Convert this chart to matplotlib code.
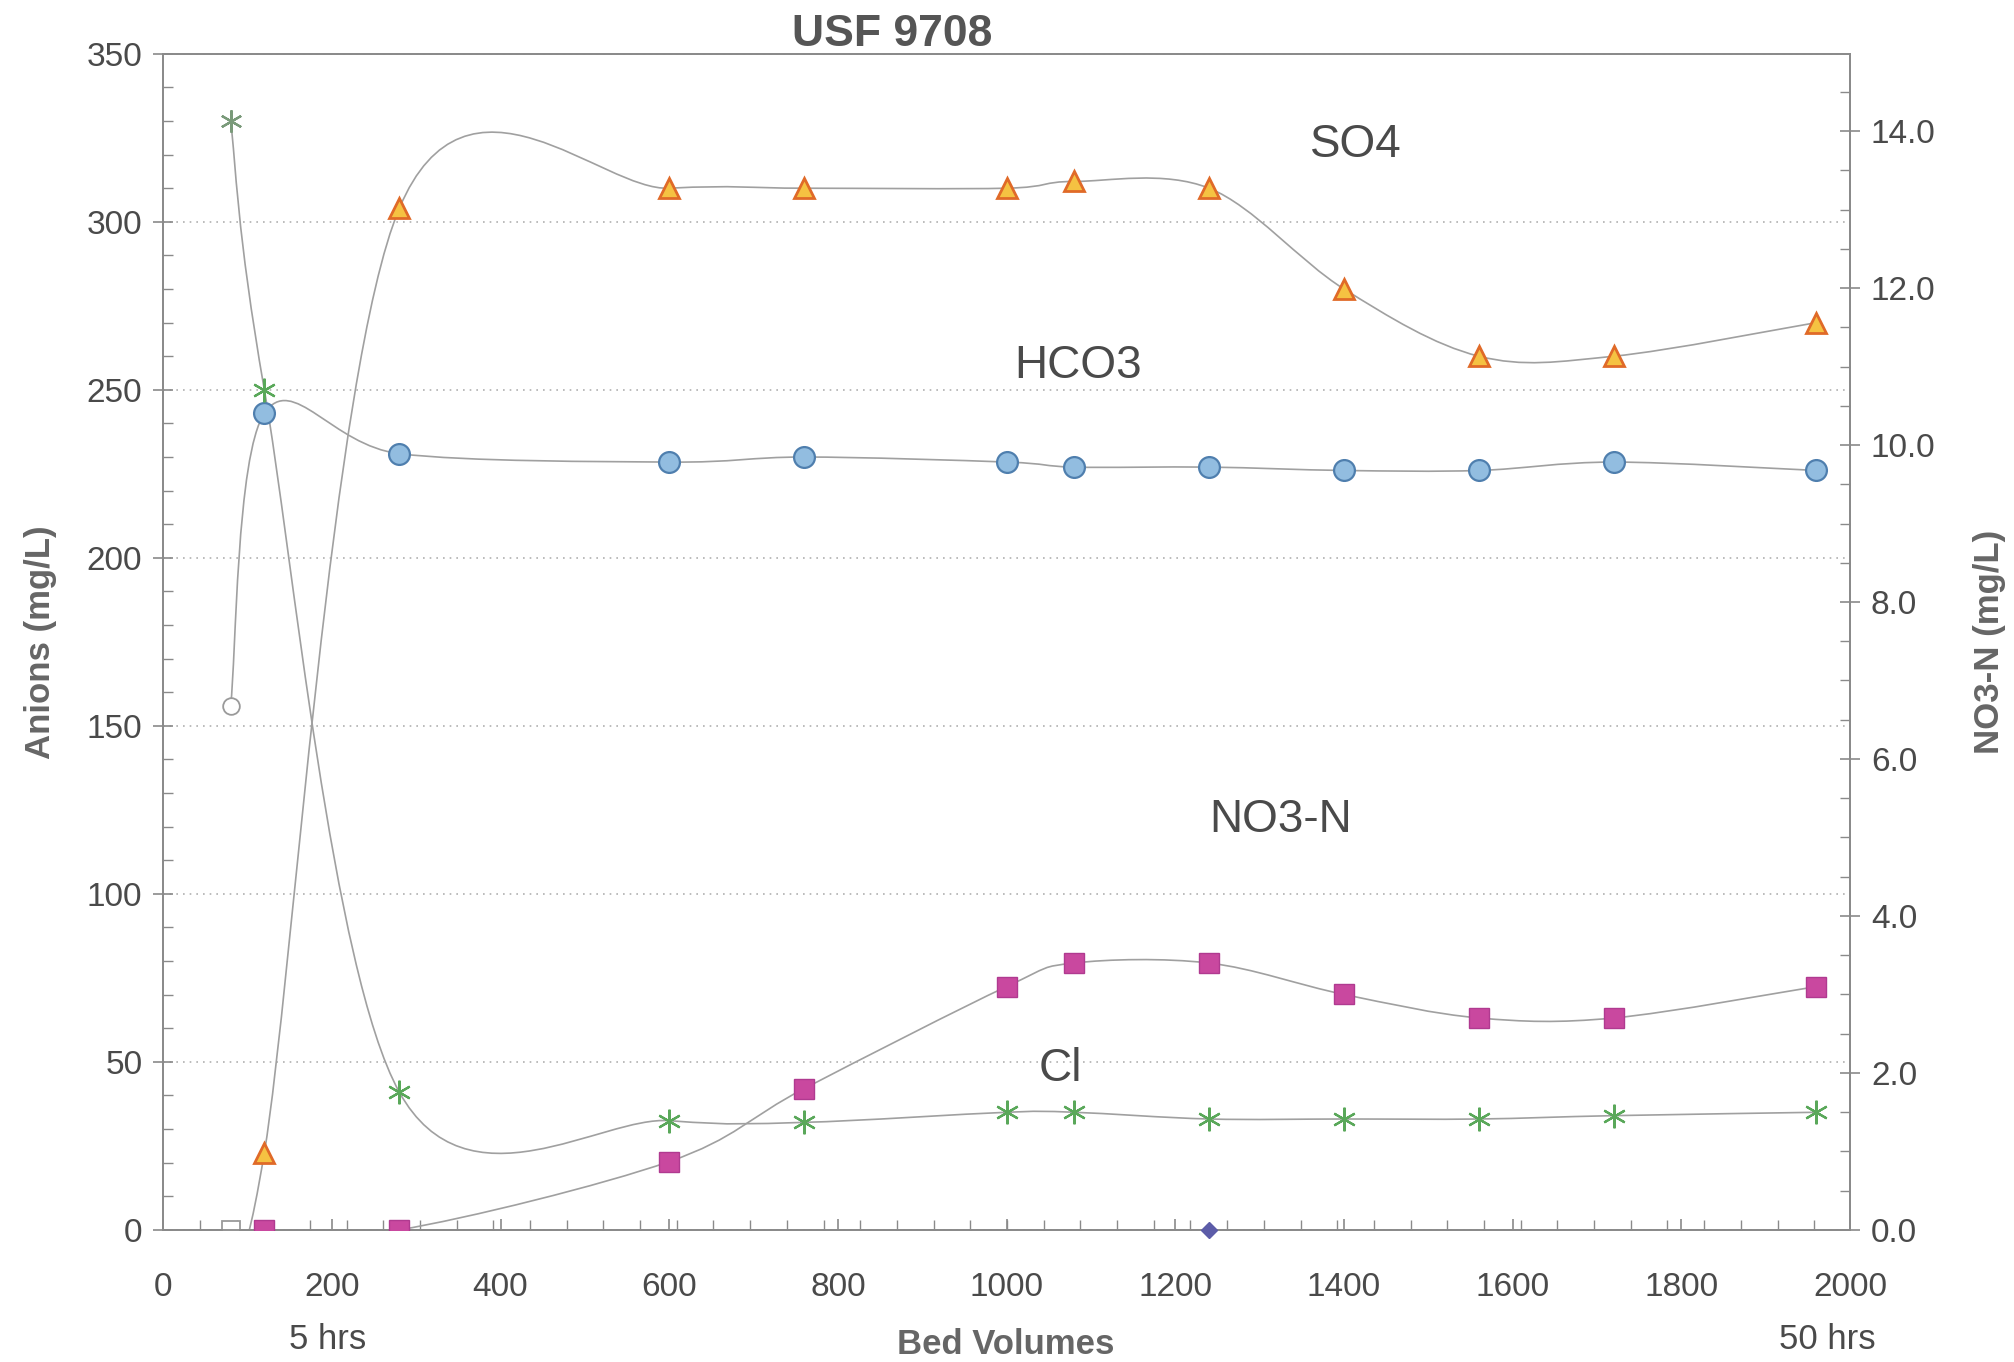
import numpy as np
import matplotlib
matplotlib.use('Agg')
import matplotlib.pyplot as plt
from matplotlib.path import Path
from matplotlib.patches import PathPatch
from matplotlib.ticker import MultipleLocator, FormatStrFormatter

# bed volumes sampled (first point = influent, drawn hollow)
bed_volumes = [80, 120, 280, 600, 760, 1000, 1080, 1240, 1400, 1560, 1720, 1960]
so4 = [0, 23, 304, 310, 310, 310, 312, 310, 280, 260, 260, 270]
hco3 = [156, 243, 231, 228.5, 230, 228.5, 227, 227, 226, 226, 228.5, 226]
cl = [330, 250, 41, 32.5, 32, 35, 35, 33, 33, 33, 34, 35]
no3_bv = [120, 280, 600, 760, 1000, 1080, 1240, 1400, 1560, 1720, 1960]
no3_n = [0, 0, 0.87, 1.8, 3.1, 3.4, 3.4, 3.0, 2.7, 2.7, 3.1]
nitrite_bv = [1240]
nitrite = [0]

plt.rcParams['font.family'] = ['Liberation Sans', 'DejaVu Sans']
txt = '#4a4a4a'
gray = '#8a8a8a'


def smooth_path(xs, ys):
    # excel style smoothed line: bezier through the points
    p = np.column_stack([xs, ys]).astype(float)
    n = len(p)
    verts = [p[0]]
    codes = [Path.MOVETO]
    for i in range(n - 1):
        p0 = p[i - 1] if i > 0 else p[i]
        p3 = p[i + 2] if i + 2 < n else p[i + 1]
        c1 = p[i] + (p[i + 1] - p0) / 6.0
        c2 = p[i + 1] - (p3 - p[i]) / 6.0
        verts += [c1, c2, p[i + 1]]
        codes += [Path.CURVE4] * 3
    return Path(verts, codes)


fig = plt.figure(figsize=(20.14, 13.62), dpi=100)
ax = fig.add_axes([0.081, 0.097, 0.8376, 0.8635])
ax2 = ax.twinx()

for ys in (so4, hco3, cl):
    ax.add_patch(PathPatch(smooth_path(bed_volumes, ys), fill=False,
                           ec='#a0a0a0', lw=1.2, zorder=2))
ax2.add_patch(PathPatch(smooth_path(no3_bv, no3_n), fill=False,
                        ec='#a0a0a0', lw=1.2, zorder=2))

# influent points (hollow)
ax.plot(bed_volumes[0], so4[0], 's', ms=13, mfc='white', mec='#9a9a9a', mew=1.3, zorder=4)
ax.plot(bed_volumes[0], hco3[0], 'o', ms=12, mfc='white', mec='#9a9a9a', mew=1.3, zorder=4)
ax.plot(bed_volumes[0], cl[0], marker=(6, 2, 0), ms=16, color='#7a9a7a', mew=1.6,
        ls='none', zorder=4)

ax.plot(bed_volumes[1:], so4[1:], '^', ms=14, mfc='#f5c242', mec='#e06a28', mew=2,
        ls='none', zorder=5)
ax.plot(bed_volumes[1:], hco3[1:], 'o', ms=15, mfc='#92bde0', mec='#4f7fae', mew=1.6,
        ls='none', zorder=5)
ax.plot(bed_volumes[1:], cl[1:], marker=(6, 2, 0), ms=17, color='#5aa85a', mew=1.6,
        ls='none', zorder=5)
ax2.plot(no3_bv, no3_n, 's', ms=15, mfc='#c9489f', mec='#b03a90', mew=1,
         ls='none', zorder=5)
ax2.plot(nitrite_bv, nitrite, 'D', ms=8, color='#5c5ca8', ls='none', zorder=6,
         clip_on=False)

ax.set_xlim(0, 2000)
ax.set_ylim(0, 350)
ax2.set_ylim(0, 350 / 327 * 14)

ax.xaxis.set_major_locator(MultipleLocator(200))
ax.xaxis.set_minor_locator(MultipleLocator(43.5))
ax.yaxis.set_major_locator(MultipleLocator(50))
ax.yaxis.set_minor_locator(MultipleLocator(10))
ax2.yaxis.set_major_locator(MultipleLocator(2))
ax2.yaxis.set_minor_locator(MultipleLocator(0.5))
ax2.yaxis.set_major_formatter(FormatStrFormatter('%.1f'))
ax2.set_yticks(np.arange(0, 14.1, 2))

ax.grid(axis='y', which='major', ls=(0, (1, 3)), color='#b0b0b0', lw=1.2)

for a in (ax, ax2):
    for s in a.spines.values():
        s.set_color(gray)
        s.set_linewidth(1.3)
ax.tick_params(which='major', direction='inout', length=14, width=1.2, color=gray,
               labelsize=24, labelcolor=txt, pad=8)
ax.tick_params(which='minor', direction='in', length=7, width=1, color=gray)
ax.tick_params(axis='x', which='major', direction='in', length=8, pad=30)
ax2.tick_params(which='major', direction='inout', length=14, width=1.2, color=gray,
                labelsize=24, labelcolor=txt, pad=8)
ax2.tick_params(which='minor', direction='in', length=7, width=1, color=gray)

ax.set_ylabel('Anions (mg/L)', fontsize=25, fontweight='bold', color='#666666', labelpad=21)
ax2.set_ylabel('NO3-N (mg/L)', fontsize=25, fontweight='bold', color='#666666',
               rotation=90, labelpad=27)
fig.text(0.4995, 0.013, 'Bed Volumes', ha='center', va='center', fontsize=25,
         fontweight='bold', color='#666666')
fig.text(0.443, 0.975, 'USF 9708', ha='center', va='center', fontsize=32,
         fontweight='bold', color='#555555')

ax.text(195, -0.093, '5 hrs', transform=ax.get_xaxis_transform(), ha='center',
        va='center', fontsize=25, color=txt)
ax.text(1973, -0.093, '50 hrs', transform=ax.get_xaxis_transform(), ha='center',
        va='center', fontsize=25, color=txt)

ax.text(1414, 323, 'SO4', ha='center', va='center', fontsize=33, color=txt)
ax.text(1085, 257, 'HCO3', ha='center', va='center', fontsize=33, color=txt)
ax.text(1325, 122, 'NO3-N', ha='center', va='center', fontsize=33, color=txt)
ax.text(1064, 48, 'Cl', ha='center', va='center', fontsize=33, color=txt)

fig.savefig('out.png', dpi=100)
